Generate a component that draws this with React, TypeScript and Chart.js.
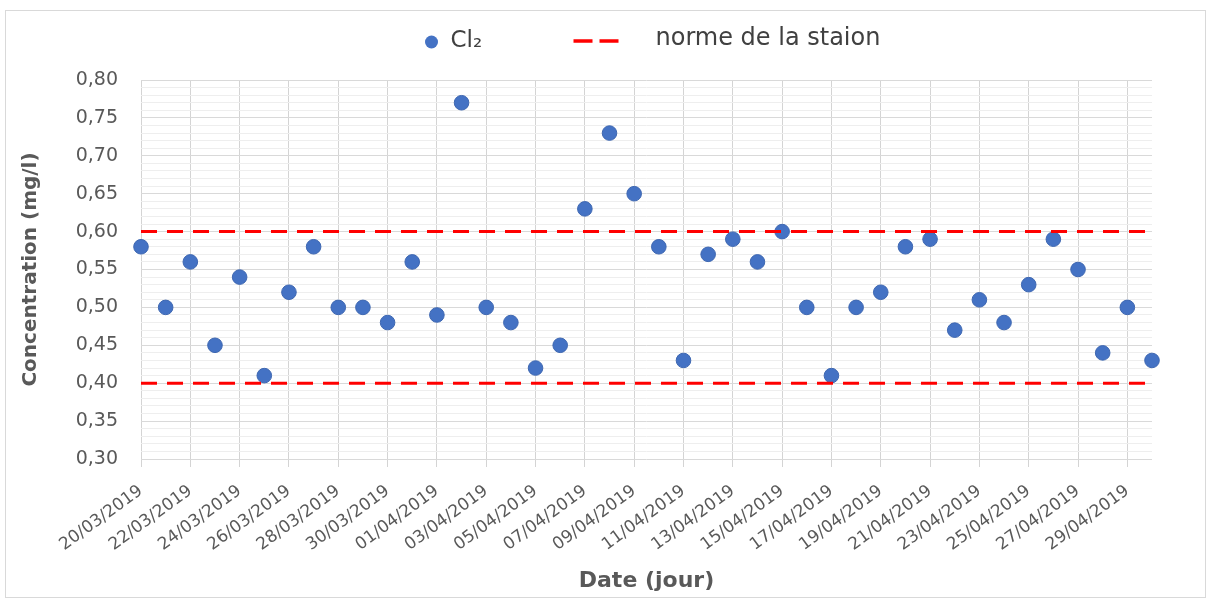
import React, { useEffect, useRef } from "react";
import { Chart, registerables } from "chart.js";

Chart.register(...registerables);

const FONT = "'DejaVu Sans', sans-serif";

const dates = [
  "20/03/2019", "21/03/2019", "22/03/2019", "23/03/2019", "24/03/2019", "25/03/2019",
  "26/03/2019", "27/03/2019", "28/03/2019", "29/03/2019", "30/03/2019", "31/03/2019",
  "01/04/2019", "02/04/2019", "03/04/2019", "04/04/2019", "05/04/2019", "06/04/2019",
  "07/04/2019", "08/04/2019", "09/04/2019", "10/04/2019", "11/04/2019", "12/04/2019",
  "13/04/2019", "14/04/2019", "15/04/2019", "16/04/2019", "17/04/2019", "18/04/2019",
  "19/04/2019", "20/04/2019", "21/04/2019", "22/04/2019", "23/04/2019", "24/04/2019",
  "25/04/2019", "26/04/2019", "27/04/2019", "28/04/2019", "29/04/2019", "30/04/2019",
];

const cl2Values = [
  0.58, 0.5, 0.56, 0.45, 0.54, 0.41, 0.52, 0.58, 0.5, 0.5, 0.48, 0.56,
  0.49, 0.77, 0.5, 0.48, 0.42, 0.45, 0.63, 0.73, 0.65, 0.58, 0.43, 0.57,
  0.59, 0.56, 0.6, 0.5, 0.41, 0.5, 0.52, 0.58, 0.59, 0.47, 0.51, 0.48,
  0.53, 0.59, 0.55, 0.44, 0.5, 0.43,
];

const normeHaute = 0.6;
const normeBasse = 0.4;

const yMin = 0.3;
const yMax = 0.8;
const yMinorStep = 0.01;
const yMajorEvery = 5; // a labelled line every 0.05

const legendLabels = ["Cl\u2082", "norme de la staion"];
const xTitle = "Date (jour)";
const yTitle = "Concentration (mg/l)";

const isMajor = (v: number) => Math.round(v * 100) % yMajorEvery === 0;

const legendPlugin = {
  id: "customLegend",
  afterDraw(chart: any) {
    const ctx = chart.ctx;
    const cx = chart.width / 2;
    const y = 30;
    ctx.save();
    ctx.fillStyle = "#4472C4";
    ctx.beginPath();
    ctx.arc(cx - 174, y + 1, 6.5, 0, Math.PI * 2);
    ctx.fill();
    ctx.font = `23px ${FONT}`;
    ctx.fillStyle = "#404040";
    ctx.textBaseline = "middle";
    ctx.textAlign = "left";
    ctx.fillText(legendLabels[0], cx - 155, y);
    ctx.strokeStyle = "#FF0000";
    ctx.lineWidth = 3.5;
    ctx.setLineDash([19, 7]);
    ctx.beginPath();
    ctx.moveTo(cx - 32, y);
    ctx.lineTo(cx + 13, y);
    ctx.stroke();
    ctx.setLineDash([]);
    ctx.font = `24px ${FONT}`;
    ctx.fillText(legendLabels[1], cx + 50, y - 2);
    ctx.restore();
  },
};

export default function App() {
  const ref = useRef<HTMLCanvasElement>(null);

  useEffect(() => {
    if (!ref.current) return;
    Chart.defaults.font.family = FONT;
    const last = dates[dates.length - 1];
    const normeStyle = {
      borderColor: "#FF0000",
      backgroundColor: "#FF0000",
      borderWidth: 3,
      borderDash: [16, 10],
      pointRadius: 0,
      fill: false,
      order: 0,
    };
    const chart = new Chart(ref.current, {
      type: "line",
      data: {
        labels: dates,
        datasets: [
          {
            label: legendLabels[1],
            data: [
              { x: dates[0], y: normeHaute },
              { x: last, y: normeHaute },
            ],
            ...normeStyle,
          } as any,
          {
            label: legendLabels[1],
            data: [
              { x: dates[0], y: normeBasse },
              { x: last, y: normeBasse },
            ],
            ...normeStyle,
          } as any,
          {
            label: legendLabels[0],
            data: cl2Values,
            showLine: false,
            pointRadius: 7.3,
            pointBackgroundColor: "#4472C4",
            pointBorderColor: "#3E67B1",
            pointBorderWidth: 1,
            order: 1,
          },
        ],
      },
      options: {
        responsive: true,
        maintainAspectRatio: false,
        animation: false,
        layout: { padding: { top: 69, right: 53, bottom: 0, left: 0 } },
        plugins: {
          legend: { display: false },
          tooltip: { enabled: false },
        },
        scales: {
          x: {
            type: "category",
            offset: false,
            grid: {
              color: (c: any) => (c.index % 2 === 0 ? "#d4d4d4" : "rgba(0,0,0,0)"),
              lineWidth: 1,
              drawTicks: true,
              tickLength: 8,
            },
            border: { display: false },
            ticks: {
              autoSkip: false,
              maxRotation: 36,
              minRotation: 36,
              padding: 14,
              color: "#595959",
              font: { family: FONT, size: 17 },
              callback: (_v: any, i: number) => (i % 2 === 0 ? dates[i] : ""),
            },
            title: {
              display: true,
              text: xTitle,
              color: "#595959",
              font: { family: FONT, size: 22, weight: "bold" },
              padding: { top: 0, bottom: 3 },
            },
            afterFit: (s: any) => {
              s.height = 138;
            },
          },
          y: {
            min: yMin,
            max: yMax,
            grid: {
              color: (c: any) => (isMajor(c.tick.value) ? "#d9d9d9" : "#eeeeee"),
              drawTicks: false,
            },
            border: { display: false },
            ticks: {
              stepSize: yMinorStep,
              maxTicksLimit: 100,
              autoSkip: false,
              padding: 23,
              color: "#595959",
              font: { family: FONT, size: 19 },
              callback: (v: any) =>
                isMajor(Number(v)) ? Number(v).toFixed(2).replace(".", ",") : "",
            },
            title: {
              display: true,
              text: yTitle,
              color: "#595959",
              font: { family: FONT, size: 20, weight: "bold" },
              padding: { top: 13, bottom: 0 },
            },
            afterFit: (s: any) => {
              s.width = 135;
            },
          },
        },
      },
      plugins: [legendPlugin],
    });
    return () => chart.destroy();
  }, []);

  return (
    <div
      style={{
        position: "absolute",
        left: 5,
        top: 10,
        width: 1201,
        height: 588,
        border: "1px solid #d9d9d9",
        boxSizing: "border-box",
        background: "#fff",
      }}
    >
      <div style={{ position: "relative", width: "100%", height: "100%" }}>
        <canvas ref={ref} />
      </div>
    </div>
  );
}
